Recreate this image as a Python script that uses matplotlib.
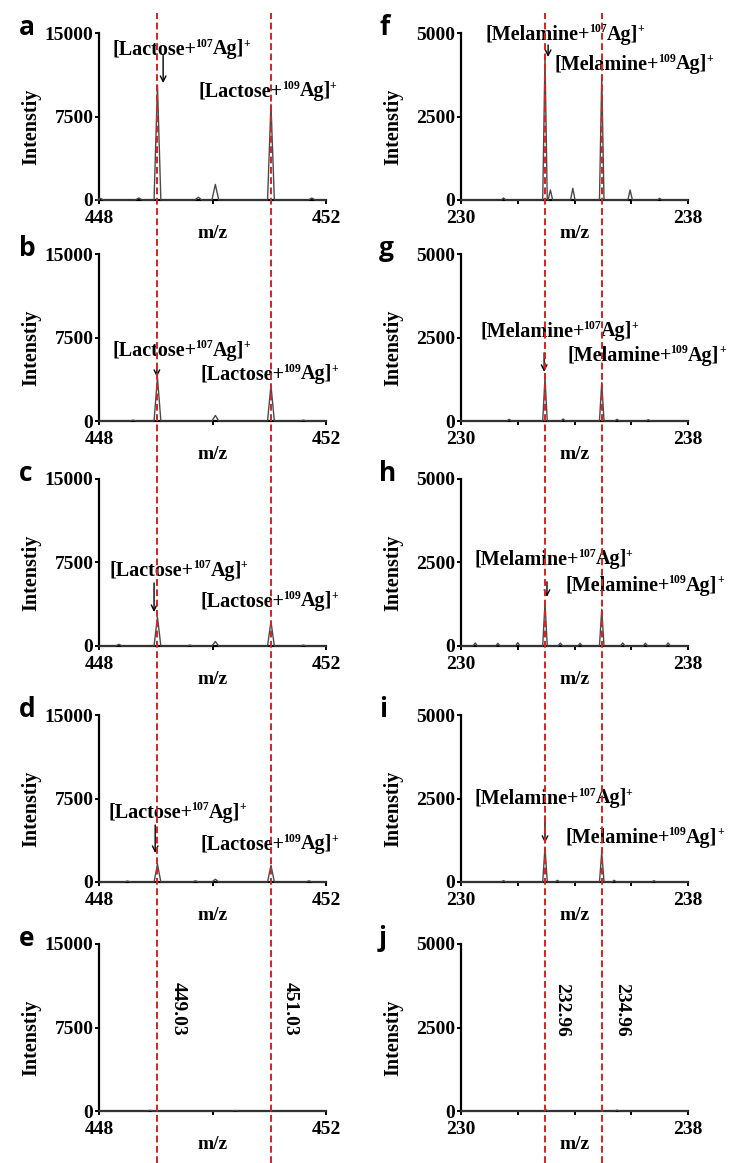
import matplotlib
matplotlib.use("Agg")
import matplotlib.pyplot as plt
import matplotlib.transforms as mtransforms
from matplotlib.lines import Line2D

# ---------------- data ----------------
panel_letters_left = ["a", "b", "c", "d", "e"]
panel_letters_right = ["f", "g", "h", "i", "j"]

lactose_lines = [449.03, 451.03]
melamine_lines = [232.96, 234.96]

mz_a = [448.02, 448.70, 449.03, 449.75, 450.05, 451.03, 451.75]
int_a = [150, 180, 10300, 250, 1400, 8600, 180]
mz_b = [448.6, 449.03, 450.05, 451.03, 451.6]
int_b = [80, 3900, 500, 3200, 80]
mz_c = [448.35, 449.03, 449.6, 450.05, 451.03, 451.6]
int_c = [150, 2600, 80, 400, 2200, 80]
mz_d = [448.5, 449.03, 449.7, 450.05, 451.03, 451.7]
int_d = [80, 1600, 100, 250, 1500, 100]
mz_e = [448.9, 450.4]
int_e = [60, 40]

mz_f = [231.5, 232.96, 233.15, 233.94, 234.96, 235.96, 237.0]
int_f = [60, 4300, 300, 350, 3700, 300, 50]
mz_g = [231.7, 232.96, 233.6, 234.96, 235.5, 236.6]
int_g = [50, 1300, 60, 1150, 50, 40]
mz_h = [230.5, 231.3, 232.0, 232.96, 233.5, 234.2, 234.96, 235.7, 236.5, 237.3]
int_h = [90, 80, 100, 1300, 90, 80, 1100, 90, 80, 90]
mz_i = [231.5, 232.96, 233.4, 234.96, 235.4, 236.8]
int_i = [40, 1050, 50, 900, 50, 40]
mz_j = [233.0, 235.5]
int_j = [30, 25]

left_xlim = (448, 452)
right_xlim = (230, 238)
left_yticks = [0, 7500, 15000]
right_yticks = [0, 2500, 5000]
left_xticks = [448, 450, 452]
left_xticklabels = ["448", "", "452"]
right_xticks = [230, 232, 234, 236, 238]
right_xticklabels = ["230", "", "", "", "238"]

# label pieces: (text, is_superscript)
lac107 = [("[Lactose+", False), ("107", True), ("Ag]", False), ("+", True)]
lac109 = [("[Lactose+", False), ("109", True), ("Ag]", False), ("+", True)]
mel107 = [("[Melamine+", False), ("107", True), ("Ag]", False), ("+", True)]
mel109 = [("[Melamine+", False), ("109", True), ("Ag]", False), ("+", True)]

# annotation layout (data coords): (t107 x, y), (t109 x, y), (arrow x, y_from, y_to)
left_annot = [
    ((448.23, 13650), (449.76, 9880), (449.13, 13020, 10500)),
    ((448.23, 6380), (449.78, 4310), (449.02, 4850, 3950)),
    ((448.19, 6830), (449.78, 4130), (448.97, 5660, 3050)),
    ((448.16, 6290), (449.78, 3500), (448.99, 5120, 2600)),
    None,
]
right_annot = [
    ((230.88, 4980), (233.31, 4100), (233.07, 4640, 4280)),
    ((230.67, 2720), (233.74, 1980), (232.93, 2040, 1470)),
    ((230.49, 2630), (233.67, 1830), (233.03, 1920, 1470)),
    ((230.49, 2540), (233.67, 1350), (232.96, 1980, 1170)),
    None,
]

# ---------------- style ----------------
plt.rcParams["font.family"] = ["Liberation Serif", "DejaVu Serif"]
plt.rcParams["font.weight"] = "bold"

W, H = 730, 1163
fig = plt.figure(figsize=(W / 100, H / 100), dpi=100)
fig.patch.set_facecolor("white")
renderer = fig.canvas.get_renderer()

row_tops = [33, 254, 479, 715, 944]
ax_h = 167
left_x, right_x, ax_w = 99, 461, 227
FS = 14
FS_ANN = 14.5
FS_SUP = 8.5
SPEC_COLOR = "#4a4a4a"
RED = "#d42424"


def rect(x, top, w, h):
    return [x / W, 1 - (top + h) / H, w / W, h / H]


def build_trace(mz, inten, hw, xlim):
    pairs = sorted(zip(mz, inten))
    xs, ys = [xlim[0]], [0]
    for c, h in pairs:
        xs += [c - hw, c, c + hw]
        ys += [0, h, 0]
    xs.append(xlim[1])
    ys.append(0)
    return xs, ys


def rich_text(ax, x, y, pieces):
    dx = 0.0
    base_dy = -6.0
    for s, sup in pieces:
        tr = mtransforms.offset_copy(ax.transData, fig=fig, x=round(dx),
                                     y=base_dy + (7.5 if sup else 0.0), units="dots")
        t = ax.text(x, y, s, transform=tr, fontsize=FS_SUP if sup else FS_ANN,
                    ha="left", va="baseline", zorder=4)
        dx += t.get_window_extent(renderer).width - (0.0 if sup else 1.0)


def style_axes(ax, xlim, ylim_top, xticks, xticklabels, yticks):
    ax.set_xlim(*xlim)
    ax.set_ylim(0, ylim_top)
    for s in ["top", "right"]:
        ax.spines[s].set_visible(False)
    for s in ["left", "bottom"]:
        ax.spines[s].set_linewidth(1.6)
    ax.set_xticks(xticks)
    ax.set_xticklabels(xticklabels)
    ax.set_yticks(yticks)
    ax.set_yticklabels([str(v) for v in yticks])
    ax.tick_params(direction="out", length=3, width=1.4, labelsize=FS, pad=1)
    ax.tick_params(axis="x", pad=4)
    ax.set_xlabel("m/z", fontsize=FS, fontweight="bold", labelpad=-1)
    ax.set_ylabel("Intenstiy", fontsize=FS + 0.5, fontweight="bold")
    ax.yaxis.set_label_coords(-58 / ax_w, 0.44)
    ax.patch.set_alpha(0)


left_data = [(mz_a, int_a), (mz_b, int_b), (mz_c, int_c), (mz_d, int_d), (mz_e, int_e)]
right_data = [(mz_f, int_f), (mz_g, int_g), (mz_h, int_h), (mz_i, int_i), (mz_j, int_j)]

axes_left, axes_right = [], []
for col in range(2):
    for r in range(5):
        if col == 0:
            ax = fig.add_axes(rect(left_x, row_tops[r], ax_w, ax_h))
            mz, it = left_data[r]
            xs, ys = build_trace(mz, it, 0.06, left_xlim)
            style_axes(ax, left_xlim, left_yticks[-1], left_xticks, left_xticklabels, left_yticks)
            ann = left_annot[r]
            t107, t109 = lac107, lac109
            letter = panel_letters_left[r]
            letter_x = 19
            axes_left.append(ax)
        else:
            ax = fig.add_axes(rect(right_x, row_tops[r], ax_w, ax_h))
            mz, it = right_data[r]
            xs, ys = build_trace(mz, it, 0.08, right_xlim)
            style_axes(ax, right_xlim, right_yticks[-1], right_xticks, right_xticklabels, right_yticks)
            ann = right_annot[r]
            t107, t109 = mel107, mel109
            letter = panel_letters_right[r]
            letter_x = 379
            axes_right.append(ax)
        ax.plot(xs, ys, color=SPEC_COLOR, lw=1.0, clip_on=False, zorder=3)
        if ann is not None:
            (x1, y1), (x2, y2), (axx, ay0, ay1) = ann
            rich_text(ax, x1, y1, t107)
            rich_text(ax, x2, y2, t109)
            ax.annotate("", xy=(axx, ay1), xytext=(axx, ay0),
                        arrowprops=dict(arrowstyle="->", color="black", lw=1.0,
                                        shrinkA=0, shrinkB=0, mutation_scale=10))
        fig.text(letter_x / W, 1 - (row_tops[r] + 2) / H, letter,
                 family=["Open Sans", "DejaVu Sans"], fontweight="bold",
                 fontsize=19, ha="left", va="baseline")

# rotated peak labels in e and j
axe = axes_left[4]
for v, xp in zip(lactose_lines, [449.39, 451.37]):
    axe.text(xp, 9160, f"{v:.2f}", rotation=270, fontsize=FS, ha="center", va="center")
axj = axes_right[4]
for v, xp in zip(melamine_lines, [233.55, 235.66]):
    axj.text(xp, 3020, f"{v:.2f}", rotation=270, fontsize=FS, ha="center", va="center")

# red dashed guide lines across the whole column
top_frac = 1 - 13 / H
inv = fig.transFigure.inverted()
for ax, vals in [(axe, lactose_lines), (axj, melamine_lines)]:
    for v in vals:
        xf = inv.transform(ax.transData.transform((v, 0)))[0]
        fig.add_artist(Line2D([xf, xf], [0, top_frac], transform=fig.transFigure,
                              color=RED, lw=1.4, linestyle=(0, (3.5, 1.8)), zorder=10))

fig.savefig("out.png", dpi=100, facecolor="white")
